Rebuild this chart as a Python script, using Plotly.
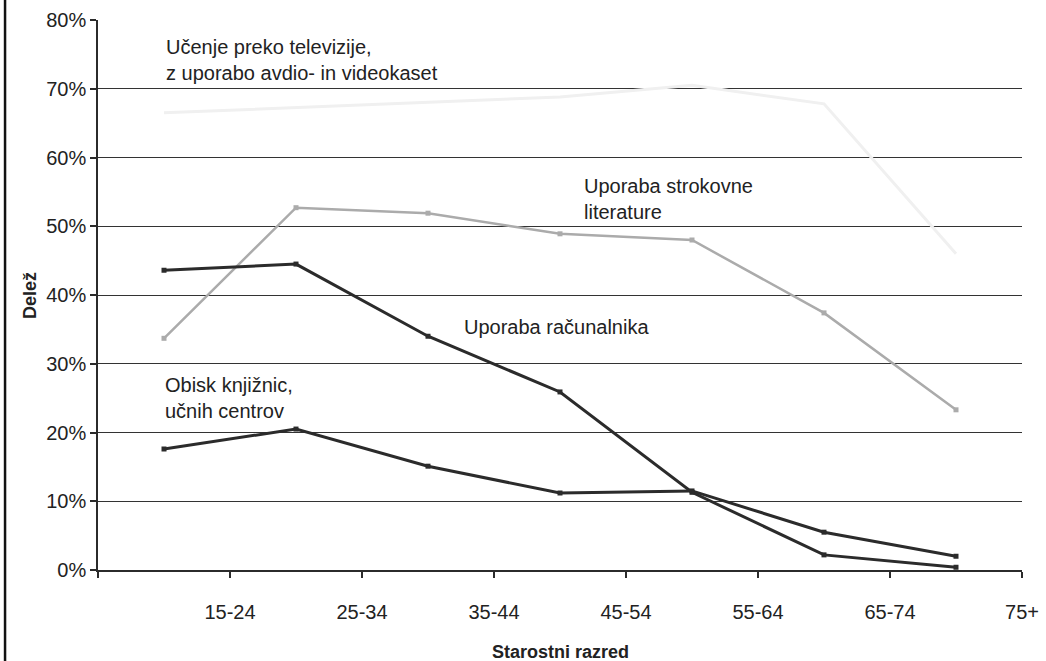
import plotly.graph_objects as go

# category positions (points sit between the tick marks)
x_pos = [0.5, 1.5, 2.5, 3.5, 4.5, 5.5, 6.5]
tick_positions = [0, 1, 2, 3, 4, 5, 6, 7]
tick_labels = ["", "15-24", "25-34", "35-44", "45-54", "55-64", "65-74", "75+"]

tv_video = [66.5, 67.3, 68.1, 68.8, 70.5, 67.8, 46.0]
strokovna_lit = [33.7, 52.7, 51.9, 48.9, 48.0, 37.4, 23.3]
racunalnik = [43.6, 44.5, 34.0, 25.9, 11.3, 2.2, 0.4]
knjiznice = [17.6, 20.5, 15.1, 11.2, 11.5, 5.5, 2.0]

y_ticks = [0, 10, 20, 30, 40, 50, 60, 70, 80]
y_labels = [f"{v}%" for v in y_ticks]

FONT = "Liberation Sans, Arial, sans-serif"
DARK = "#2b2b2b"
LIGHT = "#ababab"

fig = go.Figure()
fig.add_trace(go.Scatter(x=x_pos, y=tv_video, mode="lines", line=dict(color="#f0f0f0", width=3),
                         hoverinfo="skip"))
fig.add_trace(go.Scatter(x=x_pos, y=strokovna_lit, mode="lines+markers",
                         line=dict(color=LIGHT, width=2.5),
                         marker=dict(symbol="square", size=5, color=LIGHT)))
fig.add_trace(go.Scatter(x=x_pos, y=racunalnik, mode="lines+markers",
                         line=dict(color=DARK, width=3),
                         marker=dict(symbol="square", size=5, color=DARK)))
fig.add_trace(go.Scatter(x=x_pos, y=knjiznice, mode="lines+markers",
                         line=dict(color=DARK, width=3),
                         marker=dict(symbol="square", size=5, color=DARK)))

ann_font = dict(family=FONT, size=20, color="#222")
annotations = [
    dict(x=0.5, y=74.2, text="Učenje preko televizije,<br>z uporabo avdio- in videokaset"),
    dict(x=3.67, y=53.9, text="Uporaba strokovne<br>literature"),
    dict(x=2.76, y=35.3, text="Uporaba računalnika"),
    dict(x=0.49, y=25.0, text="Obisk knjižnic,<br>učnih centrov"),
]
for a in annotations:
    fig.add_annotation(x=a["x"], y=a["y"], text=a["text"], xref="x", yref="y",
                       xanchor="left", yanchor="middle", align="left",
                       showarrow=False, font=ann_font)

title_font = dict(size=18, family=FONT, color="#222")
fig.add_annotation(x=-0.0736, y=0.5, xref="paper", yref="paper", text="<b>Delež</b>",
                   textangle=-90, showarrow=False, font=title_font,
                   xanchor="center", yanchor="middle")
fig.add_annotation(x=0.5, y=-0.149, xref="paper", yref="paper", text="<b>Starostni razred</b>",
                   showarrow=False, font=title_font, xanchor="center", yanchor="middle")

# left border line of the scanned frame
fig.add_shape(type="line", xref="paper", yref="paper",
              x0=-0.1006, x1=-0.1006, y0=-0.2, y1=1.1,
              line=dict(color="#111", width=2.5))

fig.update_layout(
    width=1046, height=661,
    margin=dict(l=98, r=24, t=20, b=91, autoexpand=False),
    paper_bgcolor="white", plot_bgcolor="white",
    showlegend=False,
    font=dict(family=FONT, size=20, color="#222"),
    xaxis=dict(range=[0, 7], tickmode="array", tickvals=tick_positions, ticktext=tick_labels,
               showgrid=False, zeroline=False, showline=True, linecolor=DARK, linewidth=1.5,
               ticks="outside", ticklen=6, tickcolor=DARK, tickwidth=1.5,
               ticklabelstandoff=17, automargin=False,
               tickfont=dict(size=20, family=FONT, color="#222")),
    yaxis=dict(range=[0, 80], tickmode="array", tickvals=y_ticks, ticktext=y_labels,
               showgrid=True, gridcolor="#333", gridwidth=1.2, zeroline=False,
               showline=True, linecolor=DARK, linewidth=1.5,
               ticks="outside", ticklen=6, tickcolor=DARK, tickwidth=1.5,
               automargin=False,
               tickfont=dict(size=20, family=FONT, color="#222")),
)

fig.write_html("out.html", config={"displayModeBar": False},
               post_script="document.body.style.margin='0';")
